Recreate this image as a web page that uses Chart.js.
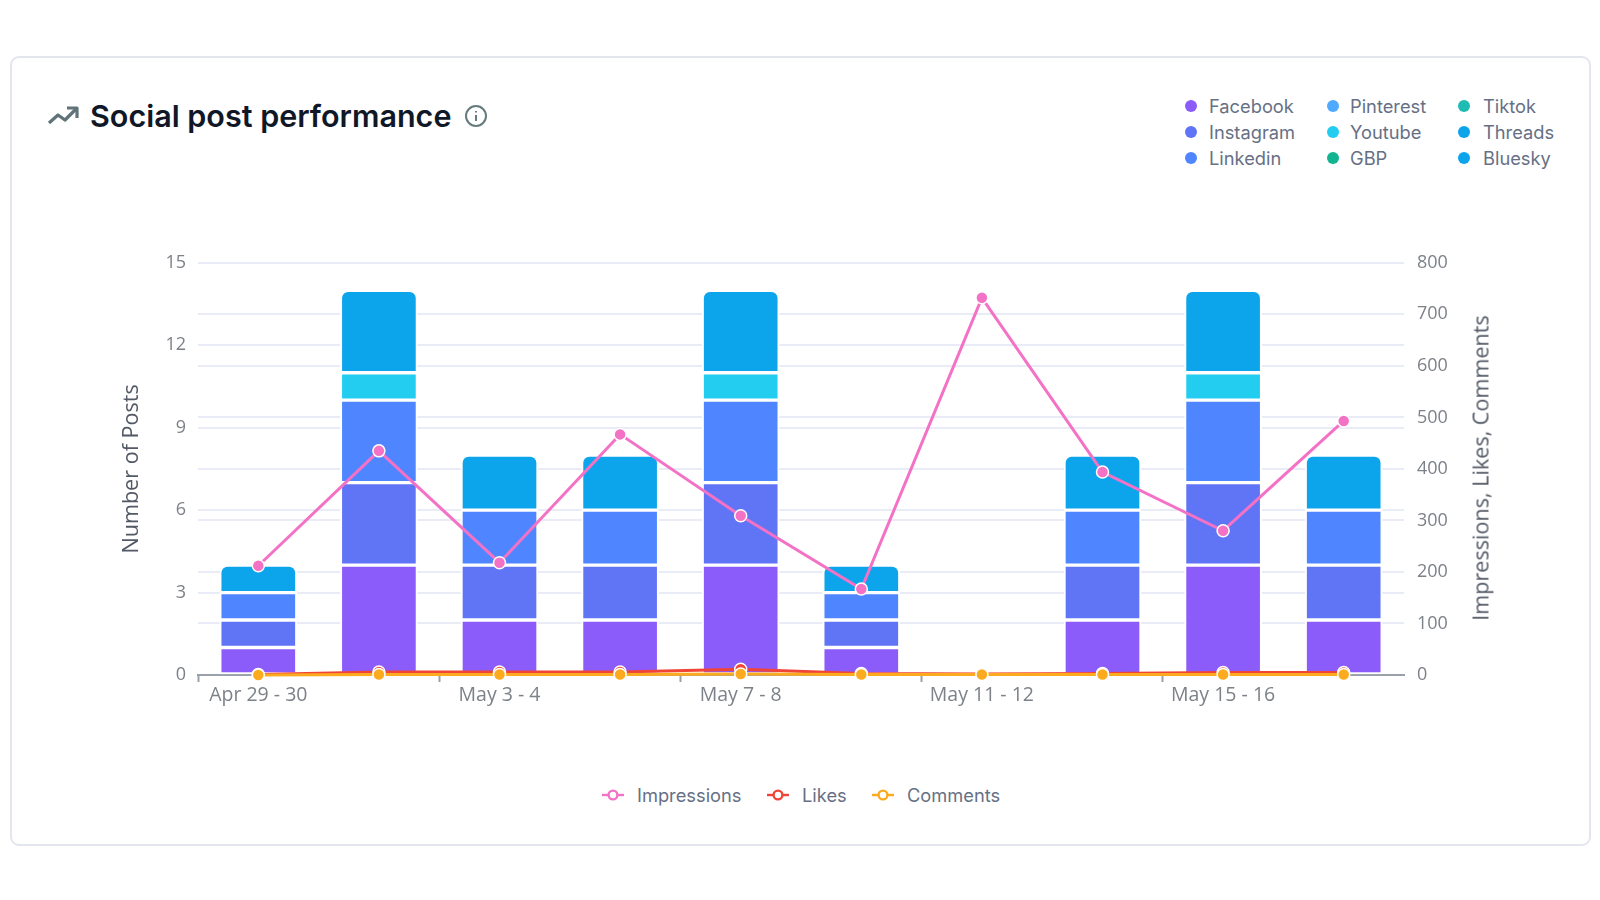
<!DOCTYPE html>
<html>
<head>
<meta charset="utf-8">
<title>Social post performance</title>
<script src="https://cdn.jsdelivr.net/npm/chart.js@4/dist/chart.umd.js"></script>
<style>
  html, body { margin: 0; padding: 0; background: #fff; }
  body { width: 1600px; height: 900px; position: relative; overflow: hidden; font-family: Inter, sans-serif; }
  .card { position: absolute; left: 10px; top: 56px; width: 1577px; height: 786px; border: 2px solid #e3e6ed; border-radius: 9px; }
  .heading { position: absolute; left: 90px; top: 97px; font-size: 30.5px; font-weight: 600; color: #101828; line-height: 38px; white-space: nowrap; }
  .icon { position: absolute; }
  .key { position: absolute; font-size: 18.3px; line-height: 24px; color: #667085; white-space: nowrap; }
  .dot { position: absolute; width: 12px; height: 12px; border-radius: 50%; }
  .chart-box { position: absolute; left: 110px; top: 239px; width: 1390px; height: 481px; }
  .right-title { position: absolute; left: 1480px; top: 468px; transform: translate(-50%, -50%) rotate(-90deg); font-family: 'Open Sans', sans-serif; font-size: 21.6px; color: #535a66; white-space: nowrap; }
</style>
</head>
<body>
<div class="card"></div>
<svg class="icon" style="left:47px;top:103px" width="32" height="28" viewBox="0 0 32 28" fill="none" stroke="#5f7379" stroke-width="3.2" stroke-linejoin="round">
  <path d="M2 20 L11 12 L18 17 L29 6"/><path d="M20 5 H30 V15"/>
</svg>
<div class="heading">Social post performance</div>
<svg class="icon" style="left:464px;top:104px" width="24" height="24" viewBox="0 0 24 24" fill="none" stroke="#667a80" stroke-width="2">
  <circle cx="12" cy="12" r="10"/><path d="M12 11 V17"/><path d="M12 7 V8.5"/>
</svg>
<div id="topKeys"></div>
<div class="chart-box"><canvas id="chart"></canvas></div>
<div class="right-title">Impressions, Likes, Comments</div>
<div id="bottomKeys"></div>
<script>
// Two-week post counts per network, with engagement totals on a second axis.
const categories = ["Apr 29 - 30", "May 1 - 2", "May 3 - 4", "May 5 - 6", "May 7 - 8", "May 9 - 10", "May 11 - 12", "May 13 - 14", "May 15 - 16", "May 17 - 18"];

const facebook  = [1, 4, 2, 2, 4, 1, 0, 2, 4, 2];
const instagram = [1, 3, 2, 2, 3, 1, 0, 2, 3, 2];
const linkedin  = [1, 3, 2, 2, 3, 1, 0, 2, 3, 2];
const pinterest = [0, 0, 0, 0, 0, 0, 0, 0, 0, 0];
const youtube   = [0, 1, 0, 0, 1, 0, 0, 0, 1, 0];
const gbp       = [0, 0, 0, 0, 0, 0, 0, 0, 0, 0];
const tiktok    = [0, 0, 0, 0, 0, 0, 0, 0, 0, 0];
const threads   = [0, 0, 0, 0, 0, 0, 0, 0, 0, 0];
const bluesky   = [1, 3, 2, 2, 3, 1, 0, 2, 3, 2];

const impressions = [212, 435, 218, 467, 309, 167, 732, 394, 280, 493];
const likes       = [1, 6, 6, 6, 11, 3, 2, 3, 5, 5];
const comments    = [0, 1, 1, 1, 2, 1, 1, 1, 1, 1];

const postTickLabels = [0, 3, 6, 9, 12, 15];
const engagementTickLabels = [0, 100, 200, 300, 400, 500, 600, 700, 800];

const networks = [
  { name: "Facebook",  data: facebook,  color: "#8b5cf9" },
  { name: "Instagram", data: instagram, color: "#6075f5" },
  { name: "Linkedin",  data: linkedin,  color: "#4f86ff" },
  { name: "Pinterest", data: pinterest, color: "#4fa9ff" },
  { name: "Youtube",   data: youtube,   color: "#22cdf0" },
  { name: "GBP",       data: gbp,       color: "#12b491" },
  { name: "Tiktok",    data: tiktok,    color: "#1fbcb4" },
  { name: "Threads",   data: threads,   color: "#0ca5eb" },
  { name: "Bluesky",   data: bluesky,   color: "#0ca5eb" }
];
const metrics = [
  { name: "Impressions", data: impressions, color: "#f472c6", width: 3, order: 3 },
  { name: "Likes",       data: likes,       color: "#f04438", width: 3, order: 2 },
  { name: "Comments",    data: comments,    color: "#fdab1e", width: 3, order: 1 }
];

// Network key, three columns of three rows in the card's corner.
const keyColumns = [[1191, 1209], [1333, 1350], [1464, 1483]];
const keyRows = [106, 131.5, 157.5];
const topKeys = document.getElementById("topKeys");
networks.forEach((n, i) => {
  const col = keyColumns[Math.floor(i / 3)], y = keyRows[i % 3];
  topKeys.insertAdjacentHTML("beforeend",
    `<span class="dot" style="left:${col[0] - 6}px;top:${y - 6}px;background:${n.color}"></span>` +
    `<span class="key" style="left:${col[1]}px;top:${y - 12}px">${n.name}</span>`);
});

// Metric key under the plot: a short line through a hollow marker.
const metricKeyX = [[602, 637], [767, 802], [872, 907]];
const bottomKeys = document.getElementById("bottomKeys");
metrics.forEach((m, i) => {
  const [ix, tx] = metricKeyX[i];
  bottomKeys.insertAdjacentHTML("beforeend",
    `<svg class="icon" style="left:${ix}px;top:785px" width="22" height="20" viewBox="0 0 22 20">` +
    `<path d="M0 10 H22" stroke="${m.color}" stroke-width="2.4"/>` +
    `<circle cx="11" cy="10" r="4.4" fill="#fff" stroke="${m.color}" stroke-width="2.4"/></svg>` +
    `<span class="key" style="left:${tx}px;top:782.5px">${m.name}</span>`);
});

const tickColor = "#7d8188";
const titleColor = "#535a66";
const tickFont = { family: "'Open Sans', sans-serif", size: 18 };
const dateFont = { family: "'Open Sans', sans-serif", size: 19.5 };
const axisTitleFont = { family: "'Open Sans', sans-serif", size: 21.6 };
const gridColor = "#e9ecf6";

const datasets = [
  ...networks.map(n => ({
    type: "bar",
    label: n.name,
    data: n.data,
    backgroundColor: n.color,
    borderColor: "#ffffff",
    borderWidth: 2,
    borderSkipped: false,
    borderRadius: n.name === "Bluesky" ? { topLeft: 8, topRight: 8, bottomLeft: 0, bottomRight: 0 } : 0,
    barThickness: 77,
    stack: "posts",
    yAxisID: "y",
    order: 10
  })),
  ...metrics.map(m => ({
    type: "line",
    label: m.name,
    data: m.data,
    borderColor: m.color,
    borderWidth: m.width,
    backgroundColor: m.color,
    pointBackgroundColor: m.color,
    pointBorderColor: "#ffffff",
    pointBorderWidth: 1.5,
    pointRadius: 6,
    tension: 0,
    clip: false,
    yAxisID: "y1",
    order: m.order
  }))
];

new Chart(document.getElementById("chart"), {
  data: { labels: categories, datasets },
  options: {
    responsive: true,
    maintainAspectRatio: false,
    animation: false,
    layout: { padding: { top: 22, bottom: 0, left: 0, right: 0 } },
    plugins: { legend: { display: false }, tooltip: { enabled: false } },
    scales: {
      x: {
        stacked: true,
        afterFit: s => { s.height = 45; },
        grid: {
          offset: true,
          drawOnChartArea: false,
          drawTicks: true,
          tickLength: 7,
          tickWidth: 2,
          tickColor: c => (c.index % 2 === 0 ? "#9aa0aa" : "rgba(0,0,0,0)")
        },
        border: { display: true, color: "#9aa0aa", width: 2 },
        ticks: {
          autoSkip: false,
          maxRotation: 0,
          padding: 2,
          color: tickColor,
          font: dateFont,
          callback: (v, i) => (i % 2 === 0 ? categories[i] : "")
        }
      },
      y: {
        position: "left",
        stacked: true,
        min: 0,
        max: 15,
        afterFit: s => { s.width = 88; },
        afterBuildTicks: s => { s.ticks = postTickLabels.map(value => ({ value })); },
        grid: { color: gridColor, lineWidth: 2, drawTicks: false },
        border: { display: false },
        ticks: { color: tickColor, font: tickFont, padding: 12 },
        title: { display: true, text: "Number of Posts", color: titleColor, font: axisTitleFont, padding: { top: 9, bottom: 10 } }
      },
      y1: {
        position: "right",
        min: 0,
        max: 800,
        afterFit: s => { s.width = 96; },
        afterBuildTicks: s => { s.ticks = engagementTickLabels.map(value => ({ value })); },
        grid: { color: gridColor, lineWidth: 2, drawTicks: false },
        border: { display: false },
        ticks: { color: tickColor, font: tickFont, padding: 13 }
      }
    }
  }
});
</script>
</body>
</html>
